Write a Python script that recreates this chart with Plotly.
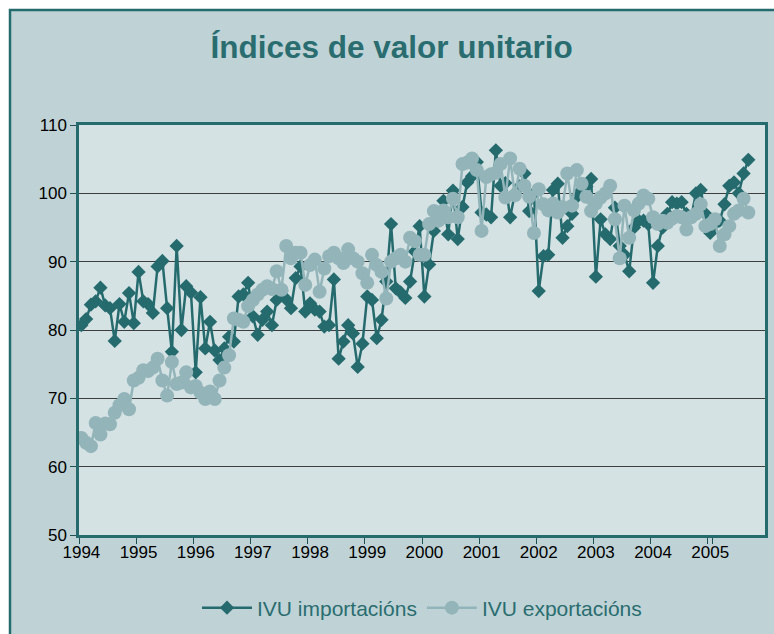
import plotly.graph_objects as go

years = list(range(1994, 2006))
month_nums = ["01", "02", "03", "04", "05", "06", "07", "08", "09", "10", "11", "12"]
months = [f"{y}-{m}" for y in years for m in month_nums]

imports = [
    80.7, 81.6, 83.7, 84.2, 86.2, 83.6, 83.2, 78.4, 83.8, 81.2, 85.4, 81.0,
    88.5, 84.2, 83.8, 82.5, 89.3, 90.1, 83.2, 76.8, 92.3, 80.0, 86.4, 85.5,
    73.8, 84.8, 77.3, 81.2, 77.0, 75.6, 77.3, 79.0, 78.3, 84.9, 85.2, 86.9,
    82.0, 79.3, 81.5, 82.7, 80.7, 84.4, 85.7, 84.5, 83.2, 87.6, 89.3, 82.7,
    83.9, 83.0, 82.7, 80.5, 80.7, 87.4, 75.8, 78.3, 80.7, 79.5, 74.6, 78.0,
    84.9, 84.4, 78.8, 81.5, 87.1, 95.5, 86.1, 85.5, 84.7, 87.1, 91.5, 95.2,
    84.9, 89.6, 94.5, 96.0, 98.9, 94.0, 100.4, 93.3, 98.0, 101.6, 102.5, 104.6,
    97.2, 96.9, 96.5, 106.3, 101.1, 101.5, 96.5, 100.0, 101.0, 102.9, 97.4, 100.0,
    85.7, 90.8, 91.0, 100.5, 101.4, 93.5, 95.2, 97.0, 99.5, 100.5, 101.0, 102.1,
    87.8, 96.2, 94.0, 93.3, 97.9, 92.3, 91.0, 88.6, 95.0, 96.0, 96.0, 95.5,
    86.9, 92.3, 95.0, 97.0, 98.7, 98.5, 98.7, 97.0, 96.5, 100.0, 100.5, 97.0,
    94.2, 95.5, 96.0, 98.4, 101.1, 101.6, 100.0, 102.9, 104.9,
]

exports = [
    64.2, 63.5, 63.0, 66.4, 64.7, 66.3, 66.2, 67.9, 69.0, 69.9, 68.4, 72.6,
    73.0, 74.1, 74.0, 74.5, 75.8, 72.6, 70.4, 75.3, 72.1, 72.3, 73.8, 71.6,
    71.8, 70.8, 69.9, 71.0, 69.9, 72.6, 74.5, 76.3, 81.7, 81.5, 81.2, 83.5,
    84.4, 85.2, 85.9, 86.4, 86.0, 88.6, 85.9, 92.3, 90.5, 91.3, 91.3, 86.6,
    89.5, 90.3, 85.6, 89.0, 90.8, 91.3, 90.5, 89.8, 91.8, 90.5, 90.0, 88.3,
    86.9, 91.0, 89.5, 88.5, 84.6, 90.0, 90.5, 91.0, 90.0, 93.5, 93.0, 91.0,
    91.0, 95.5, 97.4, 96.0, 97.5, 96.5, 99.2, 96.5, 104.3, 104.5, 105.1, 103.4,
    94.5, 102.4, 102.8, 103.0, 104.3, 99.4, 105.1, 99.7, 103.6, 101.1, 99.5, 94.2,
    100.6, 98.4, 97.5, 98.5, 97.2, 98.0, 102.9, 98.2, 103.4, 101.4, 99.5, 97.4,
    98.5, 99.4, 100.0, 101.1, 96.2, 90.5, 98.2, 93.5, 97.5, 98.5, 99.7, 99.2,
    96.5, 95.5, 96.0, 95.7, 96.3, 96.7, 96.5, 94.7, 96.5, 97.0, 98.4, 95.2,
    95.5, 96.2, 92.3, 94.0, 95.2, 97.0, 97.5, 99.2, 97.2,
]

year_ticks = [f"{y}-01" for y in years]
year_labels = [str(y) for y in years]

DARK = "#256B6E"
LIGHT = "#93B5B9"
TITLE_C = "#2A6D70"
FONT = "Liberation Sans, Arial, sans-serif"

fig = go.Figure()
fig.add_trace(go.Scatter(
    x=months[:len(imports)], y=imports, mode="lines+markers",
    name="IVU importacións",
    line=dict(color=DARK, width=2.5),
    marker=dict(symbol="diamond", size=11, color=DARK),
))
fig.add_trace(go.Scatter(
    x=months[:len(exports)], y=exports, mode="lines+markers",
    name="IVU exportacións",
    line=dict(color=LIGHT, width=2.5),
    marker=dict(symbol="circle", size=14, color=LIGHT),
))

L, R, T, B = 79, 9, 125, 99
W, H = 774, 634
pw = W - L - R
ph = H - T - B

def px_to_paper_x(px):
    return (px - L) / pw

def px_to_paper_y(py):
    return 1 - (py - T) / ph

fig.add_shape(type="rect", xref="paper", yref="paper",
              x0=px_to_paper_x(10), x1=px_to_paper_x(W + 20),
              y0=px_to_paper_y(H + 20), y1=px_to_paper_y(10),
              fillcolor="#BFD3D6", line=dict(color=DARK, width=2.5), layer="below")
fig.add_shape(type="rect", xref="paper", yref="paper",
              x0=0, x1=1, y0=0, y1=1,
              fillcolor="#D5E2E4", line=dict(width=0), layer="below")

fig.update_layout(
    width=W, height=H,
    margin=dict(l=L, r=R, t=T, b=B, autoexpand=False),
    paper_bgcolor="white",
    plot_bgcolor="rgba(0,0,0,0)",
    font=dict(family=FONT, size=17, color="black"),
    title=dict(text="<b>Índices de valor unitario</b>", x=0.506, xanchor="center",
               y=1 - 47 / H, yanchor="middle",
               font=dict(family=FONT, size=31.5, color=TITLE_C)),
    showlegend=True,
    legend=dict(orientation="h", x=0.5, xanchor="center",
                y=px_to_paper_y(608), yanchor="middle",
                font=dict(family=FONT, size=21, color=TITLE_C),
                bgcolor="rgba(0,0,0,0)", itemwidth=50),
    xaxis=dict(type="category", categoryorder="array", categoryarray=months,
               range=[-0.5, len(months) - 0.5],
               tickmode="array", tickvals=year_ticks, ticktext=year_labels,
               tickangle=0,
               tickson="boundaries", ticks="outside", ticklen=6, tickcolor="#1E4F51",
               showgrid=False, showline=True, linecolor=DARK, linewidth=2.5, mirror=True,
               tickfont=dict(family=FONT, size=17, color="black")),
    yaxis=dict(range=[50, 110], dtick=10, tick0=50, ticks="outside", ticklen=6,
               tickcolor="#1E4F51",
               showgrid=True, gridcolor="rgba(20,20,20,0.8)", gridwidth=1,
               showline=True, linecolor=DARK, linewidth=2.5, mirror=True,
               zeroline=False,
               tickfont=dict(family=FONT, size=17, color="black")),
)

fig.write_html("out.html", config={"displayModeBar": False},
               post_script="document.body.style.margin='0';")
